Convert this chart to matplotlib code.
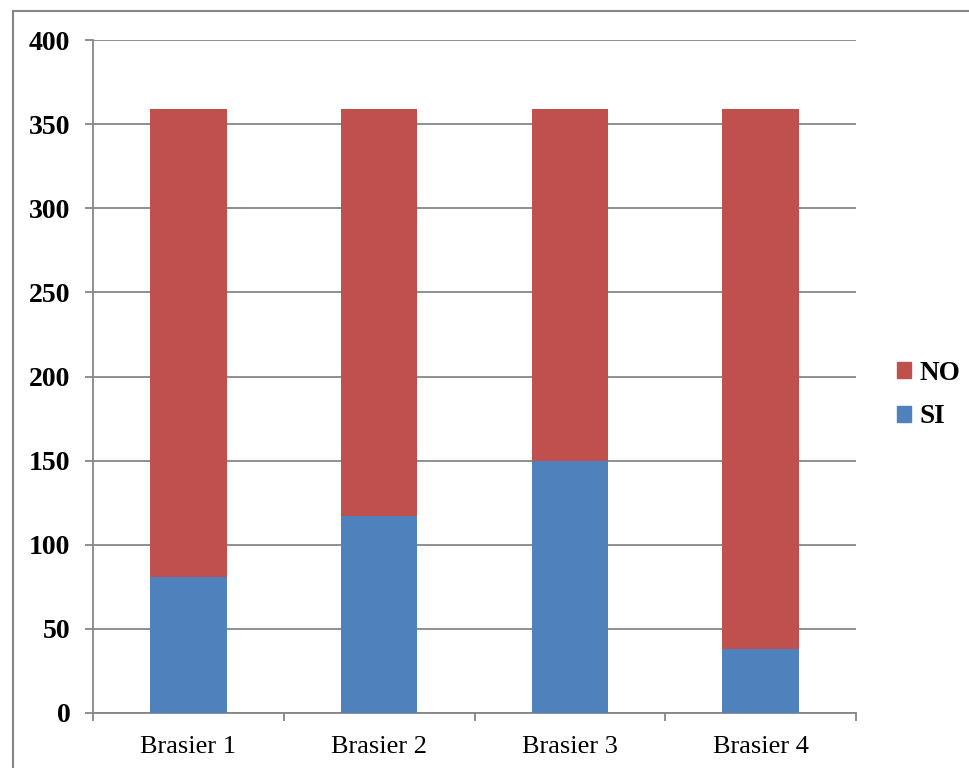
import matplotlib
matplotlib.use("Agg")
import matplotlib.pyplot as plt
from matplotlib.lines import Line2D
from matplotlib.patches import Patch

categories = ["Brasier 1", "Brasier 2", "Brasier 3", "Brasier 4"]
si_values = [81, 117, 150, 38]
no_values = [278, 242, 209, 321]
y_ticks = [0, 50, 100, 150, 200, 250, 300, 350, 400]

W, H = 969, 768
fig = plt.figure(figsize=(W / 100, H / 100), dpi=100)
plt.rcParams['font.family'] = ['Liberation Serif', 'DejaVu Serif']

gray = "#868686"
red = "#C0504D"
blue = "#4F81BD"

ax = fig.add_axes([93 / W, 1 - 713 / H, (856 - 93) / W, (713 - 40) / H])
x = list(range(len(categories)))
ax.bar(x, si_values, width=0.4, color=blue, label="SI", zorder=3)
ax.bar(x, no_values, width=0.4, bottom=si_values, color=red, label="NO", zorder=3)

ax.set_xlim(-0.5, len(categories) - 0.5)
ax.set_ylim(0, 400)
ax.set_yticks(y_ticks)
ax.set_yticklabels([str(v) for v in y_ticks], fontsize=20, fontweight="bold")
ax.yaxis.grid(True, color=gray, linewidth=1.3, zorder=0)
ax.set_axisbelow(True)

ax.set_xticks(x)
ax.set_xticklabels(categories, fontsize=19)
ax.tick_params(axis="x", length=0, pad=16.5)
ax.set_xticks([i - 0.5 for i in range(len(categories) + 1)], minor=True)
ax.tick_params(axis="x", which="minor", length=5.8, width=1.3, color=gray, direction="out")
ax.tick_params(axis="y", length=5.8, width=1.3, color=gray, direction="out", pad=10.5)

for s in ["top", "right"]:
    ax.spines[s].set_visible(False)
for s in ["left", "bottom"]:
    ax.spines[s].set_color(gray)
    ax.spines[s].set_linewidth(1.3)

handles = [Patch(color=red, label="NO"), Patch(color=blue, label="SI")]
fig.legend(handles=handles, loc="center left", bbox_to_anchor=(897 / W, 1 - 395 / H),
           frameon=False, prop={"size": 19.5, "weight": "bold"},
           borderpad=0, borderaxespad=0,
           handlelength=0.52, handleheight=0.52, handletextpad=0.3, labelspacing=0.7)

# outer border
fig.add_artist(Line2D([12.5 / W, 1.0], [1 - 10.5 / H, 1 - 10.5 / H], color=gray, linewidth=1.5))
fig.add_artist(Line2D([12.5 / W, 12.5 / W], [0, 1 - 10.5 / H], color=gray, linewidth=1.5))

fig.savefig("out.png", dpi=100)
